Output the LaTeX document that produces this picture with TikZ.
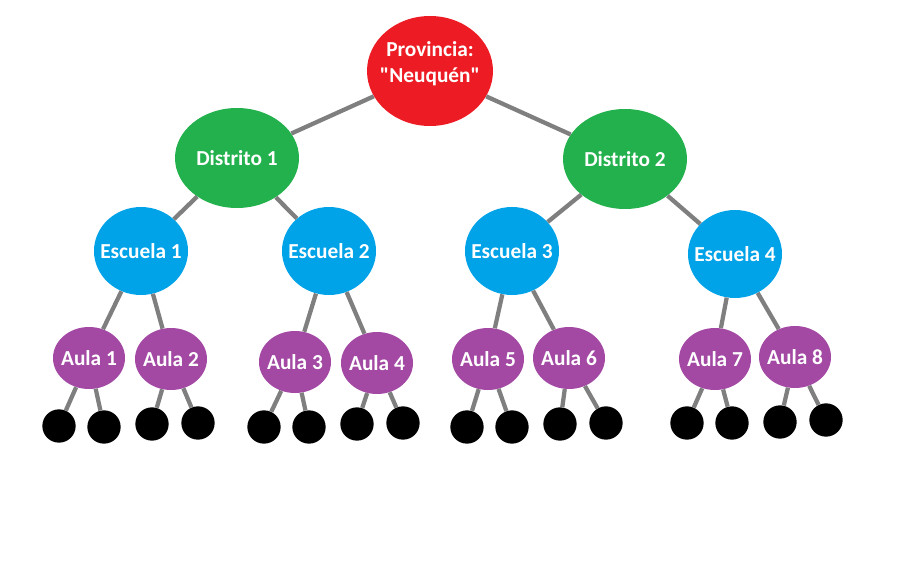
\documentclass[tikz,border=0pt]{standalone}
\usepackage{fontspec}
\setmainfont{Carlito}[Ligatures=TeXOff]
\usepackage{tikz}
\usetikzlibrary{shapes.geometric}
\definecolor{rojo}{HTML}{ED1C24}
\definecolor{verde}{HTML}{22B14C}
\definecolor{celeste}{HTML}{00A2E8}
\definecolor{violeta}{HTML}{A349A4}
\definecolor{gris}{HTML}{7F7F7F}
\tikzstyle{txt}=[text=white, font=\bfseries\fontsize{16}{19.5}\selectfont, align=center, inner sep=-6pt]
\tikzstyle{prov}=[ellipse, fill=rojo, minimum width=94.5pt, minimum height=82.5pt, txt]
\tikzstyle{dist}=[ellipse, fill=verde, minimum width=93pt, minimum height=75pt, txt]
\tikzstyle{esc}=[ellipse, fill=celeste, minimum width=70.5pt, minimum height=66pt, txt]
\tikzstyle{aula}=[ellipse, fill=violeta, minimum width=54pt, minimum height=46.5pt, txt]
\tikzstyle{hoja}=[circle, fill=black, minimum size=25pt, inner sep=0pt]
\tikzstyle{con}=[draw=gris, line width=3.2pt]

\begin{document}
\begin{tikzpicture}[x=0.75pt,y=-0.75pt]
      \useasboundingbox (0,0) rectangle (910,563);
      % arbol: provincia, distritos, escuelas, aulas
      \node [prov] (p) at (430,71) {Provincia:\\"Neuquén"\\[-6pt]};
      \node [dist] (d1) at (237,158) {Distrito 1};
      \node [dist] (d2) at (625,159) {Distrito 2};
      \node [esc] (e1) at (141,251) {Escuela 1};
      \node [esc] (e2) at (329,251) {Escuela 2};
      \node [esc] (e3) at (512,251) {Escuela 3};
      \node [esc] (e4) at (735,254) {Escuela 4};
      \node [aula] (a1) at (89,358) {Aula 1};
      \node [aula] (a2) at (171,359) {Aula 2};
      \node [aula] (a3) at (295,362) {Aula 3};
      \node [aula] (a4) at (377,363) {Aula 4};
      \node [aula] (a5) at (488,359) {Aula 5};
      \node [aula] (a6) at (569,358) {Aula 6};
      \node [aula] (a7) at (715,359) {Aula 7};
      \node [aula] (a8) at (795,357) {Aula 8};
      % hojas
      \node [hoja] (h1) at (59,426) {};
      \node [hoja] (h2) at (104,427) {};
      \node [hoja] (h3) at (152,424) {};
      \node [hoja] (h4) at (198,423) {};
      \node [hoja] (h5) at (264,427) {};
      \node [hoja] (h6) at (309,427) {};
      \node [hoja] (h7) at (357,424) {};
      \node [hoja] (h8) at (403,423) {};
      \node [hoja] (h9) at (467,427) {};
      \node [hoja] (h10) at (512,427) {};
      \node [hoja] (h11) at (560,424) {};
      \node [hoja] (h12) at (606,423) {};
      \node [hoja] (h13) at (687,423) {};
      \node [hoja] (h14) at (732,423) {};
      \node [hoja] (h15) at (780,422) {};
      \node [hoja] (h16) at (826,420) {};
      % conexiones
      \path[con] (p) edge (d1) edge (d2);
      \path[con] (d1) edge (e1) edge (e2);
      \path[con] (d2) edge (e3) edge (e4);
      \path[con] (e1) edge (a1) edge (a2);
      \path[con] (e2) edge (a3) edge (a4);
      \path[con] (e3) edge (a5) edge (a6);
      \path[con] (e4) edge (a7) edge (a8);
      \path[con] (a1) edge (h1) edge (h2);
      \path[con] (a2) edge (h3) edge (h4);
      \path[con] (a3) edge (h5) edge (h6);
      \path[con] (a4) edge (h7) edge (h8);
      \path[con] (a5) edge (h9) edge (h10);
      \path[con] (a6) edge (h11) edge (h12);
      \path[con] (a7) edge (h13) edge (h14);
      \path[con] (a8) edge (h15) edge (h16);
  \end{tikzpicture}
\end{document}
